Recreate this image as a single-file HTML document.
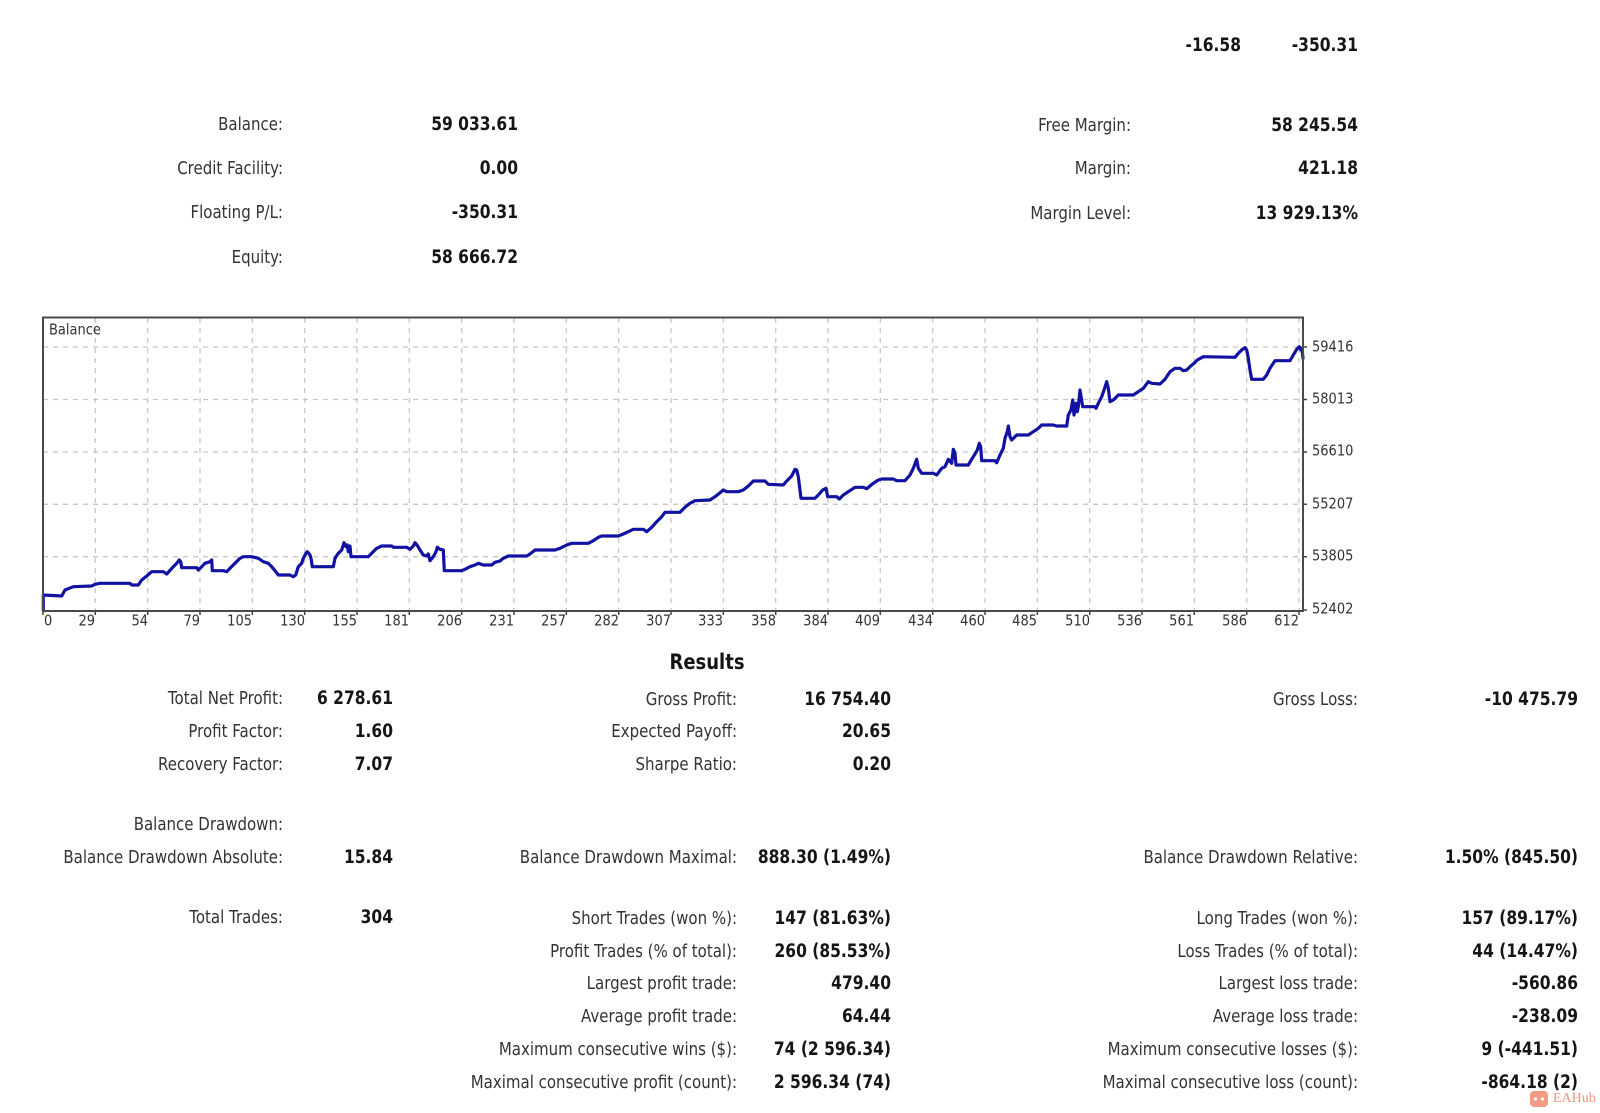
<!DOCTYPE html>
<html>
<head>
<meta charset="utf-8">
<style>
  html, body { margin:0; padding:0; background:#fff; }
  body { width:1600px; height:1113px; position:relative; overflow:hidden; }
  .l, .v, .c, .t {
    position:absolute; white-space:nowrap;
    font-family:"DejaVu Sans","Liberation Sans",sans-serif;
    height:20px; line-height:20px;
    transform:scaleY(1.2); transform-origin:50% 50%;
  }
  .l { font-size:15px; color:#333; text-align:right; }
  .v { font-size:15.5px; font-weight:bold; color:#151515; text-align:right; }
  .c { font-size:13px; color:#333; height:16px; line-height:16px; transform:scaleY(1.15); }
  .t { font-size:18px; font-weight:bold; color:#151515; height:22px; line-height:22px; text-align:center; width:200px; }
  svg { position:absolute; left:0; top:0; }
</style>
</head>
<body>

<svg width="1600" height="1113" viewBox="0 0 1600 1113">
  <g stroke="#c8c8c8" stroke-width="1.3" stroke-dasharray="5,5" fill="none">
    <path d="M43 347H1303 M43 399.5H1303 M43 452H1303 M43 504.3H1303 M43 556.7H1303"/>
    <path d="M95.3 318V610 M147.7 318V610 M200 318V610 M252.3 318V610 M304.7 318V610 M357 318V610 M409.3 318V610 M461.7 318V610 M514 318V610 M566.3 318V610 M618.7 318V610 M671 318V610 M723.3 318V610 M775.7 318V610 M828 318V610 M880.3 318V610 M932.7 318V610 M985 318V610 M1037.3 318V610 M1089.7 318V610 M1142 318V610 M1194.3 318V610 M1246.7 318V610 M1299 318V610"/>
  </g>
  <g stroke="#444" stroke-width="1.5" fill="none">
    <path d="M43 611V615 M95.3 611V615 M147.7 611V615 M200 611V615 M252.3 611V615 M304.7 611V615 M357 611V615 M409.3 611V615 M461.7 611V615 M514 611V615 M566.3 611V615 M618.7 611V615 M671 611V615 M723.3 611V615 M775.7 611V615 M828 611V615 M880.3 611V615 M932.7 611V615 M985 611V615 M1037.3 611V615 M1089.7 611V615 M1142 611V615 M1194.3 611V615 M1246.7 611V615 M1299 611V615"/>
    <path d="M1303 347H1307 M1303 399.5H1307 M1303 452H1307 M1303 504.3H1307 M1303 556.7H1307 M1303 610H1307"/>
  </g>
  <polyline fill="none" stroke="#1212a2" stroke-width="3.2" stroke-linejoin="round" stroke-linecap="round"
   points="43.3,610 43.3,595 61.7,596 65,590 73.3,586.7 91.7,586 95,584.3 100,583.3 130,583.3 131.7,585 138.3,585 141.7,580 146.7,576 151.7,571.7 163.3,571.7 166.7,574 173.3,566.7 176.7,563.3 179.3,560 180.7,561.7 181.7,567.7 196.7,567.7 198.3,570 201.7,566.7 205,563.3 210,561.7 211.7,560 212.3,570.7 223.3,570.7 226.7,571.7 230,568.3 235,563.3 240,558.3 243.3,556.7 251.7,556.7 258.3,558.3 263.3,561.7 268.3,563.3 271.7,566.7 275,570.7 278.3,575 290,575 293.3,576.7 295.7,575 298.3,566.7 301.7,563.3 303.3,558.3 306,553.3 307.3,551.7 310,555 311,558.3 312.3,566.7 333.3,566.7 335,558.3 338.3,553.3 341.7,550 344,542.7 346,546.7 347.3,545 348.3,551.7 350,546 351,556.7 368.3,556.7 371.7,553.3 376.7,548.3 381.7,546 391.7,546 393.3,547.3 406.7,547.3 410,549.3 413.3,546 415,542.7 417.7,546 420,550 423.3,555 426.7,556 428.3,554 430,560.7 433.3,556.7 436,551.7 437.3,547.3 440,549.3 443.3,550 444.3,570.7 461.7,570.7 465,569.3 470,566.7 475,565 478.3,563.3 483.3,565 491.7,565 495,562.3 500,561 503.3,558.3 508.3,556 526.7,556 530,554 535,550 555,550 560,548.3 566.7,545 571.7,543.3 588.3,543.3 593.3,540.7 598.3,537.3 601.7,536 618.3,536 623.3,534 628.3,531.7 633.3,529.3 643.3,529.3 646.7,531.7 651.7,527.3 656.7,521.7 661.7,516.7 665,512.3 680,512.3 685,507.3 690,503.3 695,500.7 710,500 715,496.7 720,492.7 723.3,490 726.7,491.7 738.3,491.7 743.3,490 748.3,486 753.3,481 765,481 768.3,484.3 783.3,485 786.7,481 791.7,476 795,469.3 796.7,470 798.3,476.7 801,498.3 815,498.3 818.3,495 822.7,490 826,488.3 827.7,496.7 836.7,496.7 839.3,499 843.3,495 848.3,491.7 855,487.3 863.3,487.3 866.7,488.7 873.3,483.3 878.3,480 881.7,479 893.3,479 896.7,480.7 905,480.7 910,475 913.3,468.3 916.7,459.3 918.3,468.3 921.7,473.3 933.3,473.3 936.7,475 941.7,468.3 945,466.7 948.3,459.3 951.7,463.3 953.3,449.3 955,453.3 956,465 968.3,465 971.7,459.3 975,454 977.3,450 979.3,443.3 980.7,446.7 981.7,460.7 995,460.7 996.7,462.7 1000,455 1003.3,448.3 1005,438.3 1007.3,431.7 1008.3,426 1010,436.7 1011.7,440 1016.7,435 1028.3,435 1033.3,431.7 1038.3,428.3 1041.7,425 1053.3,425 1056.7,426 1066.7,426 1068.3,415 1071,410 1072.7,400 1074,415 1076,403.3 1077.3,411.7 1078.3,406.7 1080,390 1082.7,406.7 1095,406.7 1096,408.3 1098.3,403.3 1101.7,396.7 1104.3,389.3 1106.7,381.7 1108.3,388.3 1110,401.7 1113.3,400 1118.3,395 1133.3,395 1138.3,391.7 1143.3,388.3 1148.3,381.7 1151.7,383.3 1160,384 1165,379.3 1170,371.7 1175,368.3 1180,368.3 1183.3,370.7 1186.7,370 1190,366.7 1194,363.3 1197.3,360 1203.3,356.7 1235,357.3 1238.3,353.3 1241.7,350 1245,347.7 1246.7,350 1248.3,358.3 1250,370 1251.7,379.3 1263.3,379.3 1266.7,375 1270,368.3 1273.3,363.3 1275,360.7 1290,360.7 1293.3,355 1296.7,349.3 1299.3,346.7 1301,350 1302,348.3 1303,358.3"/>
  <rect x="43" y="317.5" width="1260" height="293.5" fill="none" stroke="#4a4a4a" stroke-width="2"/>
  <rect x="1530" y="1091" width="18" height="16" rx="4" fill="#f07a5c" opacity="0.75"/>
  <circle cx="1535.5" cy="1099" r="1.6" fill="#fff"/>
  <circle cx="1542.5" cy="1099" r="1.6" fill="#fff"/>
</svg>

<div class="v" style="right:359px;top:35px">-16.58</div>
<div class="v" style="right:242px;top:35px">-350.31</div>

<div class="l" style="right:1317px;top:114px">Balance:</div>
<div class="l" style="right:1317px;top:158px">Credit Facility:</div>
<div class="l" style="right:1317px;top:202px">Floating P/L:</div>
<div class="l" style="right:1317px;top:247px">Equity:</div>
<div class="v" style="right:1082px;top:114px">59 033.61</div>
<div class="v" style="right:1082px;top:158px">0.00</div>
<div class="v" style="right:1082px;top:202px">-350.31</div>
<div class="v" style="right:1082px;top:247px">58 666.72</div>

<div class="l" style="right:469px;top:115px">Free Margin:</div>
<div class="l" style="right:469px;top:158px">Margin:</div>
<div class="l" style="right:469px;top:203px">Margin Level:</div>
<div class="v" style="right:242px;top:115px">58 245.54</div>
<div class="v" style="right:242px;top:158px">421.18</div>
<div class="v" style="right:242px;top:203px">13 929.13%</div>

<div class="c" style="left:49px;top:323px;font-size:13px">Balance</div>
<div class="c" style="left:1312px;top:340px">59416</div>
<div class="c" style="left:1312px;top:392px">58013</div>
<div class="c" style="left:1312px;top:444px">56610</div>
<div class="c" style="left:1312px;top:497px">55207</div>
<div class="c" style="left:1312px;top:549px">53805</div>
<div class="c" style="left:1312px;top:602px">52402</div>

<div class="c" style="left:44px;top:614px">0</div>
<div class="c" style="right:1505px;top:614px">29</div>
<div class="c" style="right:1452px;top:614px">54</div>
<div class="c" style="right:1400px;top:614px">79</div>
<div class="c" style="right:1348px;top:614px">105</div>
<div class="c" style="right:1295px;top:614px">130</div>
<div class="c" style="right:1243px;top:614px">155</div>
<div class="c" style="right:1191px;top:614px">181</div>
<div class="c" style="right:1138px;top:614px">206</div>
<div class="c" style="right:1086px;top:614px">231</div>
<div class="c" style="right:1034px;top:614px">257</div>
<div class="c" style="right:981px;top:614px">282</div>
<div class="c" style="right:929px;top:614px">307</div>
<div class="c" style="right:877px;top:614px">333</div>
<div class="c" style="right:824px;top:614px">358</div>
<div class="c" style="right:772px;top:614px">384</div>
<div class="c" style="right:720px;top:614px">409</div>
<div class="c" style="right:667px;top:614px">434</div>
<div class="c" style="right:615px;top:614px">460</div>
<div class="c" style="right:563px;top:614px">485</div>
<div class="c" style="right:510px;top:614px">510</div>
<div class="c" style="right:458px;top:614px">536</div>
<div class="c" style="right:406px;top:614px">561</div>
<div class="c" style="right:353px;top:614px">586</div>
<div class="c" style="right:301px;top:614px">612</div>

<div class="t" style="left:607px;top:652px">Results</div>

<div class="l" style="right:1317px;top:688px">Total Net Profit:</div>
<div class="l" style="right:1317px;top:721px">Profit Factor:</div>
<div class="l" style="right:1317px;top:754px">Recovery Factor:</div>
<div class="l" style="right:1317px;top:814px">Balance Drawdown:</div>
<div class="l" style="right:1317px;top:847px">Balance Drawdown Absolute:</div>
<div class="l" style="right:1317px;top:907px">Total Trades:</div>
<div class="v" style="right:1207px;top:688px">6 278.61</div>
<div class="v" style="right:1207px;top:721px">1.60</div>
<div class="v" style="right:1207px;top:754px">7.07</div>
<div class="v" style="right:1207px;top:847px">15.84</div>
<div class="v" style="right:1207px;top:907px">304</div>

<div class="l" style="right:863px;top:689px">Gross Profit:</div>
<div class="l" style="right:863px;top:721px">Expected Payoff:</div>
<div class="l" style="right:863px;top:754px">Sharpe Ratio:</div>
<div class="l" style="right:863px;top:847px">Balance Drawdown Maximal:</div>
<div class="l" style="right:863px;top:908px">Short Trades (won %):</div>
<div class="l" style="right:863px;top:941px">Profit Trades (% of total):</div>
<div class="l" style="right:863px;top:973px">Largest profit trade:</div>
<div class="l" style="right:863px;top:1006px">Average profit trade:</div>
<div class="l" style="right:863px;top:1039px">Maximum consecutive wins ($):</div>
<div class="l" style="right:863px;top:1072px">Maximal consecutive profit (count):</div>
<div class="v" style="right:709px;top:689px">16 754.40</div>
<div class="v" style="right:709px;top:721px">20.65</div>
<div class="v" style="right:709px;top:754px">0.20</div>
<div class="v" style="right:709px;top:847px">888.30 (1.49%)</div>
<div class="v" style="right:709px;top:908px">147 (81.63%)</div>
<div class="v" style="right:709px;top:941px">260 (85.53%)</div>
<div class="v" style="right:709px;top:973px">479.40</div>
<div class="v" style="right:709px;top:1006px">64.44</div>
<div class="v" style="right:709px;top:1039px">74 (2 596.34)</div>
<div class="v" style="right:709px;top:1072px">2 596.34 (74)</div>

<div class="l" style="right:242px;top:689px">Gross Loss:</div>
<div class="l" style="right:242px;top:847px">Balance Drawdown Relative:</div>
<div class="l" style="right:242px;top:908px">Long Trades (won %):</div>
<div class="l" style="right:242px;top:941px">Loss Trades (% of total):</div>
<div class="l" style="right:242px;top:973px">Largest loss trade:</div>
<div class="l" style="right:242px;top:1006px">Average loss trade:</div>
<div class="l" style="right:242px;top:1039px">Maximum consecutive losses ($):</div>
<div class="l" style="right:242px;top:1072px">Maximal consecutive loss (count):</div>
<div class="v" style="right:22px;top:689px">-10 475.79</div>
<div class="v" style="right:22px;top:847px">1.50% (845.50)</div>
<div class="v" style="right:22px;top:908px">157 (89.17%)</div>
<div class="v" style="right:22px;top:941px">44 (14.47%)</div>
<div class="v" style="right:22px;top:973px">-560.86</div>
<div class="v" style="right:22px;top:1006px">-238.09</div>
<div class="v" style="right:22px;top:1039px">9 (-441.51)</div>
<div class="v" style="right:22px;top:1072px">-864.18 (2)</div>

<div style="position:absolute;left:1553px;top:1090px;font-family:'Liberation Serif',serif;font-size:14px;line-height:18px;color:#f07a5c;opacity:0.8">EAHub</div>

</body>
</html>
